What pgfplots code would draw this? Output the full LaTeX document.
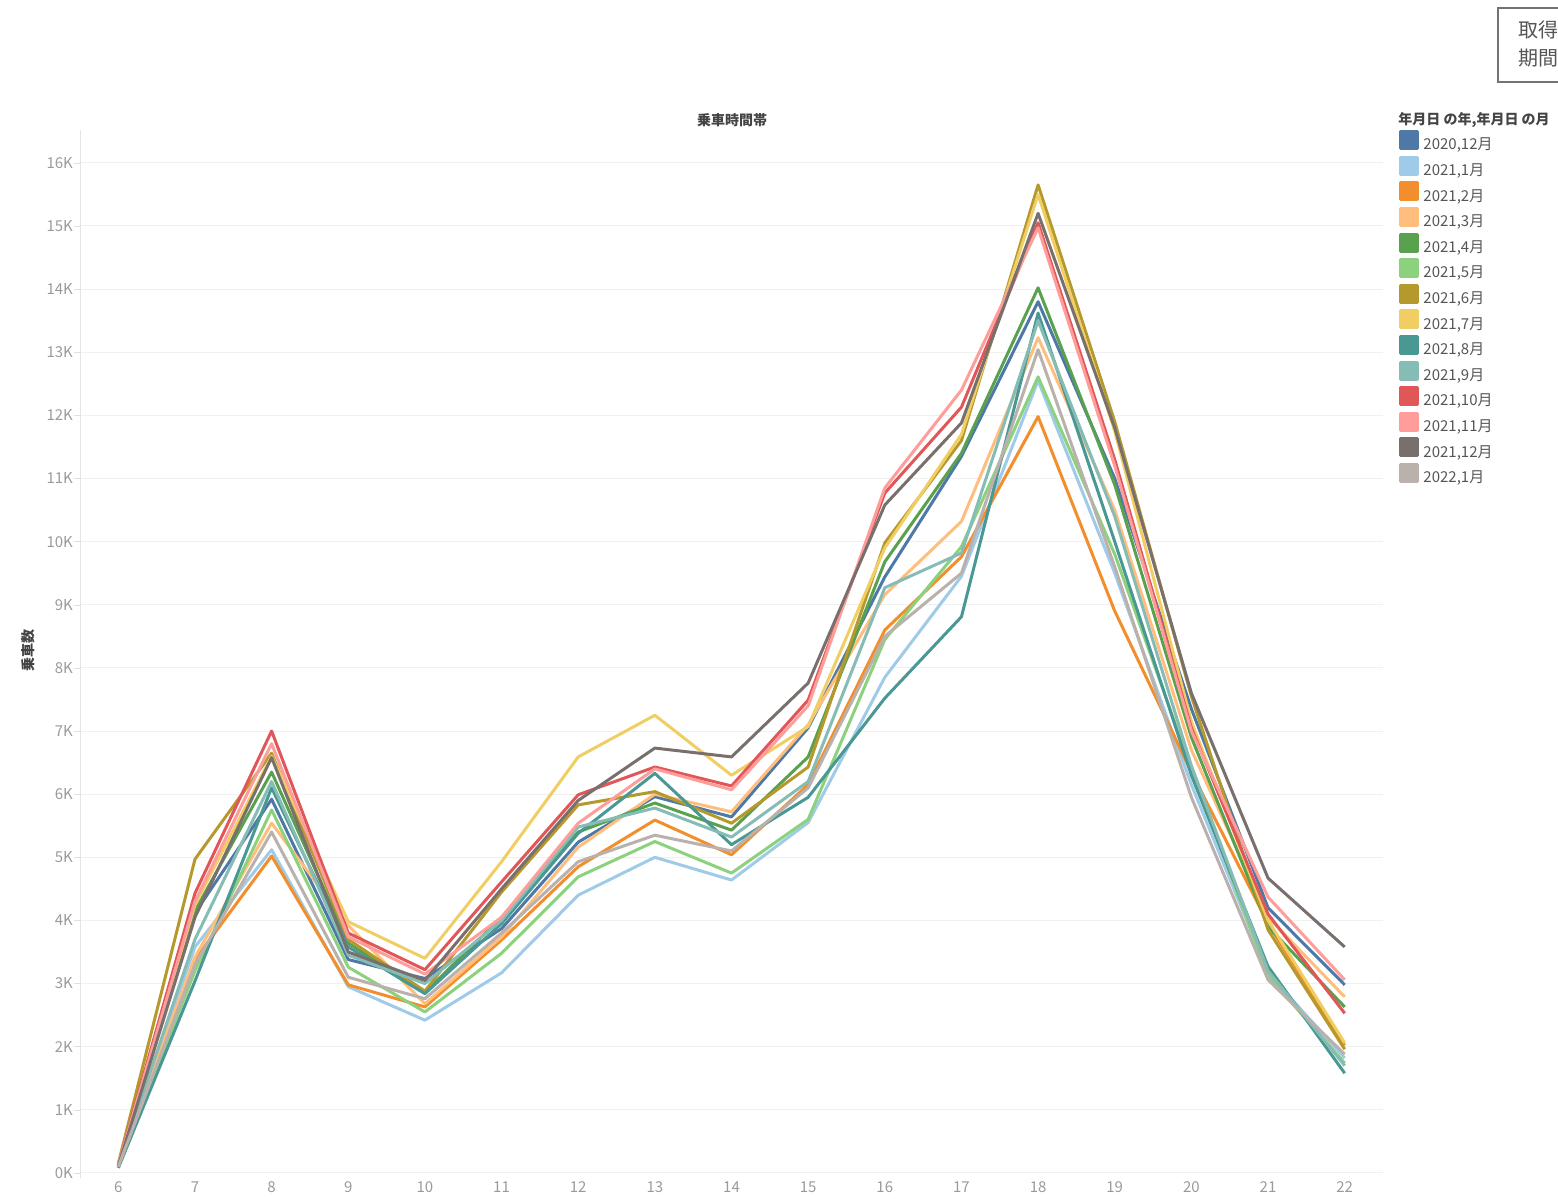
\documentclass[border=0pt]{standalone}
\usepackage{fontspec}
\setmainfont{Noto Sans CJK JP}
\usepackage{pgfplots}
\usepackage{pgfplotstable}
\pgfplotsset{compat=1.18}

\definecolor{cA}{HTML}{4E79A7}
\definecolor{cB}{HTML}{A0CBE8}
\definecolor{cC}{HTML}{F28E2B}
\definecolor{cD}{HTML}{FFBE7D}
\definecolor{cE}{HTML}{59A14F}
\definecolor{cF}{HTML}{8CD17D}
\definecolor{cG}{HTML}{B6992D}
\definecolor{cH}{HTML}{F1CE63}
\definecolor{cI}{HTML}{499894}
\definecolor{cJ}{HTML}{86BCB6}
\definecolor{cK}{HTML}{E15759}
\definecolor{cL}{HTML}{FF9D9A}
\definecolor{cM}{HTML}{79706E}
\definecolor{cN}{HTML}{BAB0AC}
\definecolor{ticktext}{HTML}{9A9A9A}
\definecolor{labeltext}{HTML}{555555}
\definecolor{titletext}{HTML}{444444}

% ride counts per boarding hour, one column per month
\pgfplotstableread{
h  A     B     C     D     E     F     G     H     I     J     K     L     M     N
6  90    110   130   140   120   100   150   140   80    100   130   120   110   100
7  4120  3580  3380  3420  4150  3200  4970  4250  3040  3700  4430  4300  4050  3300
8  5920  5120  5020  5540  6350  5750  6650  6600  6100  6200  7000  6800  6580  5400
9  3380  2950  2980  3920  3640  3260  3700  3980  3580  3450  3800  3740  3500  3100
10 3080  2420  2630  2680  2860  2550  2880  3400  2840  3000  3220  3150  3050  2760
11 3870  3170  3690  3740  4050  3480  4450  4930  3950  4000  4610  4050  4500  3800
12 5240  4400  4850  5160  5400  4690  5830  6590  5380  5480  5990  5540  5900  4930
13 5960  5000  5590  6000  5860  5250  6040  7250  6330  5780  6430  6400  6730  5350
14 5640  4640  5040  5720  5430  4750  5540  6300  5200  5320  6130  6070  6590  5100
15 7050  5550  6150  7100  6590  5600  6430  7070  5950  6200  7490  7400  7760  6100
16 9440  7850  8600  9160  9680  8450  9980  9900  7520  9270  10770 10850 10580 8500
17 11350 9450  9760  10320 11400 9920  11600 11700 8810  9820  12130 12400 11880 9500
18 13800 12550 11980 13230 14020 12610 15650 15500 13620 13500 15050 14970 15200 13040
19 11000 9500  8900  10500 10900 9800  11900 11750 10000 10400 11300 11200 11800 9600
20 7350  6150  6350  6700  6900  6400  7550  7150  6300  6450  7050  7000  7600  5950
21 4200  3170  3950  4050  3900  3120  3850  4000  3270  3200  4100  4370  4670  3060
22 2980  1820  2020  2790  2630  1740  1960  2060  1580  1700  2530  3060  3580  1880
}\rides

\begin{document}
\begin{tikzpicture}
\begin{axis}[
    at={(40pt,-65pt)}, anchor=north west,
    scale only axis, width=651.5pt, height=524pt,
    xmin=5.5, xmax=22.5, ymin=-80, ymax=16520,
    xtick={6,...,22},
    xticklabels={6,7,8,9,10,11,12,13,14,15,16,17,18,19,20,21,22},
    ytick={0,1000,...,16000},
    yticklabels={0K,1K,2K,3K,4K,5K,6K,7K,8K,9K,10K,11K,12K,13K,14K,15K,16K},
    scaled y ticks=false,
    axis y line*=left, axis x line*=bottom,
    x axis line style={draw=none}, y axis line style={draw=black!10},
    tick align=outside, major tick length=3pt,
    xtick style={draw=none}, ytick style={draw=black!12},
    ymajorgrids, major grid style={draw=black!6, line width=0.5pt},
    tick label style={font=\fontsize{7.5}{9}\selectfont, text=ticktext},
    xticklabel style={yshift=4.5pt},
    yticklabel style={xshift=3pt},
    every axis plot/.append style={line width=1.5pt, line join=round},
    legend style={at={(1.0077,1.004)}, anchor=north west, draw=none, fill=none,
        font=\fontsize{7.5}{9}\selectfont, text=labeltext, row sep=-0.55pt,
        /tikz/every even column/.append style={column sep=4pt}},
    legend cell align=left,
    legend image code/.code={\fill[#1] (0pt,-1.6pt) rectangle (8.5pt,6.9pt);},
]
\addplot[color=cA] table[x=h, y=A] {\rides}; \addlegendentry{2020,12月}
\addplot[color=cB] table[x=h, y=B] {\rides}; \addlegendentry{2021,1月}
\addplot[color=cC] table[x=h, y=C] {\rides}; \addlegendentry{2021,2月}
\addplot[color=cD] table[x=h, y=D] {\rides}; \addlegendentry{2021,3月}
\addplot[color=cE] table[x=h, y=E] {\rides}; \addlegendentry{2021,4月}
\addplot[color=cF] table[x=h, y=F] {\rides}; \addlegendentry{2021,5月}
\addplot[color=cG] table[x=h, y=G] {\rides}; \addlegendentry{2021,6月}
\addplot[color=cH] table[x=h, y=H] {\rides}; \addlegendentry{2021,7月}
\addplot[color=cI] table[x=h, y=I] {\rides}; \addlegendentry{2021,8月}
\addplot[color=cJ] table[x=h, y=J] {\rides}; \addlegendentry{2021,9月}
\addplot[color=cK] table[x=h, y=K] {\rides}; \addlegendentry{2021,10月}
\addplot[color=cL] table[x=h, y=L] {\rides}; \addlegendentry{2021,11月}
\addplot[color=cM] table[x=h, y=M] {\rides}; \addlegendentry{2021,12月}
\addplot[color=cN] table[x=h, y=N] {\rides}; \addlegendentry{2022,1月}
\end{axis}
% titles, legend heading and the clipped info box
\node[font=\fontsize{7}{8}\selectfont\bfseries, text=titletext] at (366pt,-60pt) {乗車時間帯};
\node[font=\fontsize{7}{8}\selectfont\bfseries, text=titletext, rotate=90] at (14pt,-325pt) {乗車数};
\node[font=\fontsize{7}{8}\selectfont\bfseries, text=titletext, anchor=west, inner sep=0pt] at (699pt,-60pt) {年月日 の年,年月日 の月};
\draw[black!55, line width=0.6pt] (749pt,-4pt) rectangle (800pt,-41pt);
\node[font=\fontsize{10}{14}\selectfont, text=labeltext, anchor=north west, align=left, inner sep=0pt] at (759pt,-10pt) {取得\\期間};
\pgfresetboundingbox
\useasboundingbox (0pt,0pt) rectangle (779pt,-599.5pt);
\end{tikzpicture}
\end{document}
